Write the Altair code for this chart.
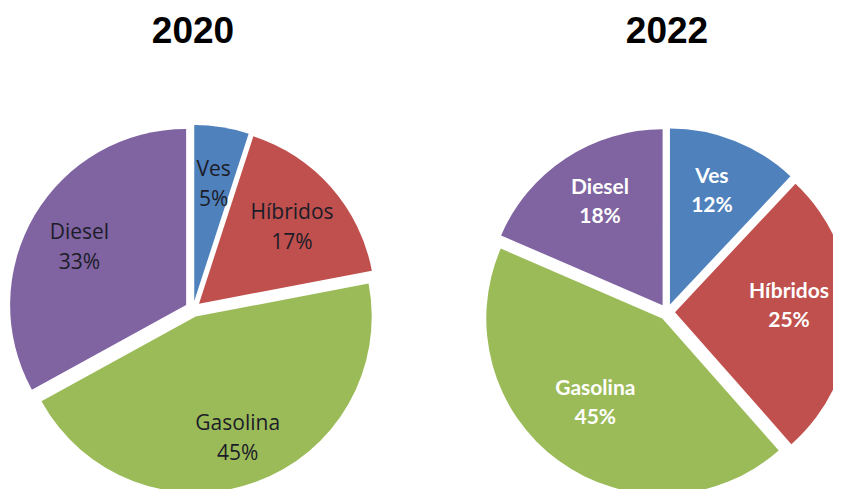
import altair as alt
import pandas as pd

# ---- data ----
years = ["2020", "2022"]
categories = ["Ves", "Híbridos", "Gasolina", "Diesel"]
# slice sizes as drawn in the picture
share_2020 = [5, 17, 45, 33]
share_2022 = [12, 26.5, 43, 18.5]
# percentages printed on the labels
label_pct_2020 = ["5%", "17%", "45%", "33%"]
label_pct_2022 = ["12%", "25%", "45%", "18%"]
colors = ["#4F81BD", "#C0504D", "#9BBB59", "#8064A2"]

rows = []
for year, vals, pcts in zip(years, [share_2020, share_2022], [label_pct_2020, label_pct_2022]):
    for i, (c, v, p) in enumerate(zip(categories, vals, pcts)):
        rows.append({"year": year, "cat": c, "value": v, "pct": p, "ord": i})
df = pd.DataFrame(rows)
title_df = pd.DataFrame({"year": years})

# ---- layout (pixels) ----
W, H = 825, 481
CX = {"2020": 185, "2022": 659}
CY = {"2020": 301, "2022": 304}
R = 176
EXPLODE = 8
LABEL_R = {"2020": 124, "2022": 114}

cx_expr = f"(datum.year == '2020' ? {CX['2020']} : {CX['2022']})"
cy_expr = f"(datum.year == '2020' ? {CY['2020']} : {CY['2022']})"

base = (
    alt.Chart(df)
    .transform_joinaggregate(total="sum(value)", groupby=["year"])
    .transform_window(cum="sum(value)", sort=[alt.SortField("ord", order="ascending")],
                      groupby=["year"], frame=[None, 0])
    .transform_calculate(mid="(datum.cum - datum.value / 2) / datum.total * 2 * PI")
    .transform_calculate(px=f"{cx_expr} + {EXPLODE} * sin(datum.mid)")
    .transform_calculate(py=f"{cy_expr} - {EXPLODE} * cos(datum.mid)")
    .transform_calculate(label="datum.cat + '|' + datum.pct")
)

X = alt.X("px:N", scale=None, axis=None)
Y = alt.Y("py:N", scale=None, axis=None)
TH = alt.Theta("value:Q", stack=True)


def arcs(year):
    return base.transform_filter(f"datum.year == '{year}'").mark_arc(
        outerRadius=R
    ).encode(
        theta=TH,
        color=alt.Color("cat:N", scale=alt.Scale(domain=categories, range=colors), legend=None),
        order=alt.Order("ord:Q"),
        x=X,
        y=Y,
    )


def labels(year, **style):
    return base.transform_filter(f"datum.year == '{year}'").mark_text(
        radius=LABEL_R[year], lineBreak="|", align="center", baseline="middle", **style
    ).encode(
        theta=TH,
        order=alt.Order("ord:Q"),
        detail="cat:N",
        x=X,
        y=Y,
        text="label:N",
    )


titles = (
    alt.Chart(title_df)
    .transform_calculate(px=cx_expr)
    .mark_text(font="Liberation Sans", fontSize=37, fontWeight="bold", color="#000000",
               align="center", baseline="alphabetic")
    .encode(x=alt.X("px:N", scale=None, axis=None), y=alt.value(35), text="year:N")
)

chart = alt.layer(
    arcs("2020"),
    arcs("2022"),
    labels("2020", font="Open Sans", fontSize=21, color="#1c1c28", lineHeight=30, dy=-9),
    labels("2022", font="Lato", fontSize=21, fontWeight="bold", color="#ffffff",
           lineHeight=29, dy=-22),
    titles,
).properties(
    width=W, height=H, padding=0,
    autosize=alt.AutoSizeParams(type="none"),
    background="white",
).configure_view(stroke=None)

chart.save("out.html", embed_options={"renderer": "svg", "actions": False})
